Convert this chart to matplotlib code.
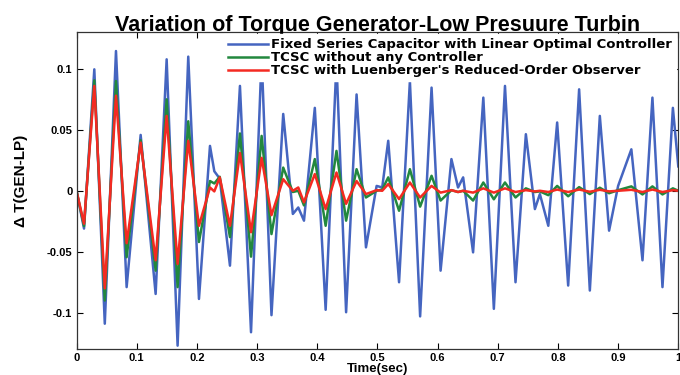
import matplotlib
matplotlib.use('Agg')
from matplotlib import pyplot as plt

plt.rcParams['font.family'] = ['Liberation Sans', 'DejaVu Sans']
plt.rcParams['font.weight'] = 'bold'

# Time instants (sec) read at the extrema of the curves
t = [0.000, 0.0125, 0.0296, 0.047, 0.0656, 0.0833, 0.1066, 0.1315, 0.1498, 0.168,
     0.1857, 0.2035, 0.2218, 0.229, 0.238, 0.255, 0.2716, 0.290, 0.3076, 0.324,
     0.3435, 0.3595, 0.3685, 0.378, 0.396, 0.414, 0.432, 0.448, 0.4654, 0.481,
     0.4987, 0.508, 0.518, 0.536, 0.554, 0.571, 0.590, 0.605, 0.623, 0.634,
     0.6425, 0.659, 0.676, 0.6935, 0.712, 0.7295, 0.7467, 0.7617, 0.770, 0.784,
     0.7987, 0.817, 0.8352, 0.853, 0.8696, 0.885, 0.900, 0.922, 0.9405, 0.957,
     0.9737, 0.991, 1.000]

# Fixed series capacitor with linear optimal controller
fixed_sc = [0.0, -0.031, 0.0996, -0.109, 0.1146, -0.079, 0.0458, -0.0846, 0.1078, -0.127,
            0.110, -0.0887, 0.0368, 0.016, 0.010, -0.0614, 0.086, -0.116, 0.110, -0.102,
            0.063, -0.019, -0.0137, -0.0245, 0.068, -0.0976, 0.105, -0.0996, 0.079, -0.0464,
            0.004, 0.0027, 0.041, -0.075, 0.090, -0.103, 0.0846, -0.0655, 0.026, 0.0027,
            0.011, -0.0505, 0.0764, -0.0968, 0.086, -0.075, 0.0464, -0.015, -0.0027, -0.0287,
            0.056, -0.0777, 0.0832, -0.0818, 0.0614, -0.0327, 0.004, 0.034, -0.057, 0.0764,
            -0.079, 0.068, 0.020]

# TCSC without any controller
tcsc_none = [0.0, -0.029, 0.0906, -0.090, 0.090, -0.0545, 0.0415, -0.0655, 0.075, -0.079,
             0.057, -0.042, 0.008, 0.006, 0.0115, -0.038, 0.047, -0.054, 0.045, -0.0355,
             0.019, -0.001, 0.0, -0.012, 0.026, -0.0287, 0.0327, -0.0245, 0.0177, -0.0055,
             0.0, 0.001, 0.011, -0.0164, 0.0177, -0.013, 0.0123, -0.008, 0.0005, -0.001,
             0.0, -0.008, 0.0068, -0.007, 0.0068, -0.0055, 0.002, -0.001, -0.0005, -0.0036,
             0.004, -0.0045, 0.003, -0.0027, 0.0025, -0.002, 0.0005, 0.0036, -0.003, 0.0036,
             -0.003, 0.002, 0.0]

# TCSC with Luenberger's reduced-order observer
tcsc_luen = [0.0, -0.027, 0.086, -0.080, 0.078, -0.043, 0.0395, -0.057, 0.0614, -0.060,
             0.041, -0.0287, 0.0027, -0.0005, 0.011, -0.0287, 0.031, -0.034, 0.027, -0.020,
             0.0095, 0.0, 0.0027, -0.0095, 0.0137, -0.015, 0.015, -0.0107, 0.008, -0.0027,
             0.0005, 0.0, 0.0055, -0.0068, 0.0068, -0.0055, 0.004, -0.0015, 0.0005, -0.001,
             0.0, -0.0015, 0.002, -0.0015, 0.002, -0.001, 0.0005, -0.0005, 0.0, -0.001,
             0.001, -0.001, 0.001, -0.0008, 0.0008, -0.0005, 0.0, 0.0008, -0.001, 0.001,
             -0.001, 0.0005, 0.0]

labels = ['Fixed Series Capacitor with Linear Optimal Controller',
          'TCSC without any Controller',
          "TCSC with Luenberger's Reduced-Order Observer"]

xticks = [0, 0.1, 0.2, 0.3, 0.4, 0.5, 0.6, 0.7, 0.8, 0.9, 1]
xticklabels = ['0', '0.1', '0.2', '0.3', '0.4', '0.5', '0.6', '0.7', '0.8', '0.9', '1']
yticks = [-0.1, -0.05, 0, 0.05, 0.1]
yticklabels = ['-0.1', '-0.05', '0', '0.05', '0.1']

fig = plt.figure(figsize=(6.8, 3.75), dpi=100)
ax = fig.add_axes([0.1125, 0.0685, 0.885, 0.8455])

ax.plot(t, fixed_sc, color='#4565C0', lw=1.8, label=labels[0], solid_joinstyle='round')
ax.plot(t, tcsc_none, color='#22883E', lw=1.8, label=labels[1], solid_joinstyle='round')
ax.plot(t, tcsc_luen, color='#F42A22', lw=1.8, label=labels[2], solid_joinstyle='round')

ax.set_xlim(0, 1)
ax.set_ylim(-0.13, 0.13)
ax.set_xticks(xticks)
ax.set_xticklabels(xticklabels, fontsize=8, fontweight='bold')
ax.set_yticks(yticks)
ax.set_yticklabels(yticklabels, fontsize=8, fontweight='bold')
ax.tick_params(direction='in', length=4, width=0.8, top=True, right=True, pad=3)
for s in ax.spines.values():
    s.set_linewidth(0.9)
    s.set_color('#333333')

ax.set_title('Variation of Torque Generator-Low Presuure Turbin',
             fontsize=15.5, fontweight='bold', pad=1)
ax.set_ylabel('\u0394 T(GEN-LP)', fontsize=11, fontweight='bold')
ax.yaxis.set_label_coords(-0.08, 0.53)
ax.set_xlabel('Time(sec)', fontsize=9.5, fontweight='bold', labelpad=0)

leg = ax.legend(loc='upper right', bbox_to_anchor=(1.0, 1.0),
                prop={'family': 'DejaVu Sans', 'weight': 'bold', 'size': 9.5},
                frameon=True, fancybox=False,
                handlelength=3.0, handletextpad=0.3, labelspacing=0.0,
                borderpad=0.3, borderaxespad=0.15)
leg.get_frame().set_edgecolor('white')
leg.get_frame().set_facecolor('white')
leg.get_frame().set_alpha(1)

plt.savefig('out.png', dpi=100)
